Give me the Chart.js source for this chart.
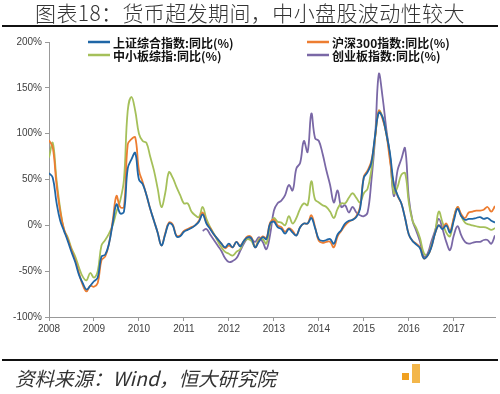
<!DOCTYPE html>
<html>
<head>
<meta charset="utf-8">
<script src="https://cdn.jsdelivr.net/npm/chart.js@4.4.1/dist/chart.umd.min.js"></script>
<style>
  body { margin: 0; background: #fff; }
  #wrap { position: relative; width: 500px; height: 394px; overflow: hidden; }
  #chart { position: absolute; left: 0; top: 0; }
  .title { position: absolute; left: 35px; top: 2px; font: 300 21px/21px "Noto Sans CJK SC"; color: #333; white-space: nowrap; letter-spacing: 0.4px; }
  .rule { position: absolute; left: 2px; width: 496px; height: 2px; background: #111; }
  .source { position: absolute; left: 15px; top: 368px; font: italic 19.5px/19.5px "Noto Sans CJK SC"; color: #333; white-space: nowrap; }
  .mark { position: absolute; background: #f0a020; }
</style>
</head>
<body>
<div id="wrap">
  <canvas id="chart" width="500" height="394"></canvas>
  <div class="title">图表18：货币超发期间，中小盘股波动性较大</div>
  <div class="rule" style="top:25px"></div>
  <div class="rule" style="top:359px"></div>
  <div class="source">资料来源：Wind，恒大研究院</div>
  <div class="mark" style="left:402px;top:373px;width:7px;height:7px"></div>
  <div class="mark" style="left:412px;top:364px;width:8px;height:19px;background:#f3b64a"></div>
</div>
<script>
// monthly YoY %, Jan 2008 .. Dec 2017
const startYear = 2008;

const shComposite = [
  57, 52, 25, 5, -6, -17, -29, -40, -54, -63, -70, -66,
  -61, -57, -34, -32, -20, 2, 23, 13, 15, 62, 72, 79,
  50, 45, 33, 18, 5, -8, -22, -10, 2, 0, -12, -12,
  -7, -5, -3, 0, 4, 12, 2, -4, -10, -15, -20, -24,
  -20, -24, -18, -23, -17, -13, -14, -24, -18, -13, -15, 2,
  4, -2, -4, -9, -4, -8, -11, -2, 2, 2, 8, -3,
  -15, -17, -16, -15, -20, -10, -5, 2, 5, 6, 9, 18,
  52, 58, 68, 98, 123, 118, 100, 78, 45, 33, 24, 8,
  -10, -17, -21, -25, -36, -33, -24, -9, 0, -4, 0, -8,
  5, 18, 10, 6, 7, 7, 8, 9, 7, 8, 5, 3
];

const csi300 = [
  93, 85, 45, 15, -4, -15, -27, -38, -52, -65, -72, -66,
  -67, -63, -38, -34, -20, 5, 32, 20, 20, 88, 94, 96,
  60, 47, 33, 18, 5, -8, -22, -9, 3, 1, -11, -11,
  -6, -4, -2, 0, 5, 14, 3, -3, -10, -15, -20, -25,
  -22, -24, -18, -22, -17, -12, -13, -24, -17, -12, -14, 3,
  6, 0, -2, -7, -3, -6, -11, -2, 2, 2, 11, -2,
  -17, -19, -18, -18, -24, -12, -6, 0, 4, 6, 10, 20,
  53, 60, 70, 96, 125, 116, 100, 70, 45, 32, 24, 8,
  -10, -17, -20, -24, -36, -33, -24, -9, 0, -3, 2, -6,
  8, 20, 12, 8, 14, 15, 16, 16, 17, 20, 15, 21
];

const smeComposite = [
  74, 90, 50, 18, -5, -13, -25, -34, -46, -56, -60, -52,
  -57, -50, -22, -16, -9, 0, 15, 27, 50, 125, 140, 125,
  100, 92, 90, 75, 60, 40, 20, 35, 58, 52, 42, 33,
  24, 24, 15, 11, 9, 20, 7, -2, -9, -17, -24, -29,
  -31, -33, -29, -26, -18, -15, -17, -24, -15, -15, -20, 0,
  8, 4, 3, 0, 10, 2, 8, 18, 24, 22, 48, 28,
  25, 22, 20, 15, 8, 18, 24, 24, 30, 35, 30, 25,
  35, 40, 60, 95, 125, 118, 100, 75, 35, 42, 55, 57,
  25, 5, -3, -14, -30, -33, -22, -8, 15, 3, -8, -12,
  8, 20, 10, 3, 1, 0, -1, -2, -2, -3, -5, -3
];

// ChiNext has no YoY figure before mid-2011
const chinext = [
  null, null, null, null, null, null, null, null, null, null, null, null,
  null, null, null, null, null, null, null, null, null, null, null, null,
  null, null, null, null, null, null, null, null, null, null, null, null,
  null, null, null, null, null, -6, -4, -10, -16, -22, -28, -36,
  -40, -39, -36, -28, -20, -14, -15, -18, -13, -18, -26, -10,
  16, 24, 27, 33, 44, 38, 62, 68, 92, 80, 122, 95,
  92, 78, 60, 44, 25, 38, 20, 22, 14, 20, 14, 11,
  10, 14, 48, 95, 165, 140, 105, 75, 32, 60, 72, 84,
  30, 5, -6, -18, -34, -31, -18, -6, 7, -4, -18, -27,
  -11, -1, -11, -18, -20, -19, -18, -18, -16, -16, -20, -11
];

const seriesNames = ['上证综合指数:同比(%)', '沪深300指数:同比(%)', '中小板综指:同比(%)', '创业板指数:同比(%)'];
const seriesColors = ['#1f66a6', '#ed7d31', '#a5c05a', '#7a68a6'];

const toPoints = arr => arr.map((v, i) => ({ x: startYear + i / 12, y: v }));

// legend laid out as a 2x2 grid like the original
const legendSpots = [[88, 42], [307, 42], [88, 55], [307, 55]];
const gridLegend = {
  id: 'gridLegend',
  afterDraw(chart) {
    const ctx = chart.ctx;
    ctx.save();
    ctx.font = 'bold 12px "Noto Sans CJK SC"';
    ctx.textBaseline = 'middle';
    chart.data.datasets.forEach((ds, i) => {
      const [x, y] = legendSpots[i];
      ctx.strokeStyle = ds.borderColor;
      ctx.lineWidth = 2.5;
      ctx.beginPath();
      ctx.moveTo(x, y);
      ctx.lineTo(x + 22, y);
      ctx.stroke();
      ctx.fillStyle = '#111';
      ctx.fillText(ds.label, x + 25, y + 1);
    });
    ctx.restore();
  }
};

const tickFont = { family: '"Liberation Sans", Arial, sans-serif', size: 10 };

new Chart(document.getElementById('chart'), {
  type: 'line',
  data: {
    datasets: [shComposite, csi300, smeComposite, chinext].map((arr, i) => ({
      label: seriesNames[i],
      data: toPoints(arr),
      borderColor: seriesColors[i],
      backgroundColor: seriesColors[i],
      borderWidth: 1.8,
      pointRadius: 0,
      tension: 0.4,
      fill: false
    }))
  },
  options: {
    responsive: false,
    animation: false,
    layout: { padding: { top: 42, right: 5, left: 0, bottom: 0 } },
    plugins: { legend: { display: false }, tooltip: { enabled: false } },
    scales: {
      x: {
        type: 'linear',
        min: startYear,
        max: startYear + 119 / 12,
        ticks: { stepSize: 1, includeBounds: false, callback: v => String(v), font: tickFont, color: '#404040', padding: 2, maxRotation: 0 },
        grid: { drawOnChartArea: false, tickLength: 4, color: '#999' },
        border: { color: '#999' },
        afterFit: s => { s.height = 77; }
      },
      y: {
        min: -100,
        max: 200,
        ticks: { stepSize: 50, callback: v => v + '%', font: tickFont, color: '#404040', padding: 3 },
        grid: { drawOnChartArea: false, tickLength: 4, color: '#999' },
        border: { color: '#999' },
        afterFit: s => { s.width = 49; }
      }
    }
  },
  plugins: [gridLegend]
});
</script>
</body>
</html>
